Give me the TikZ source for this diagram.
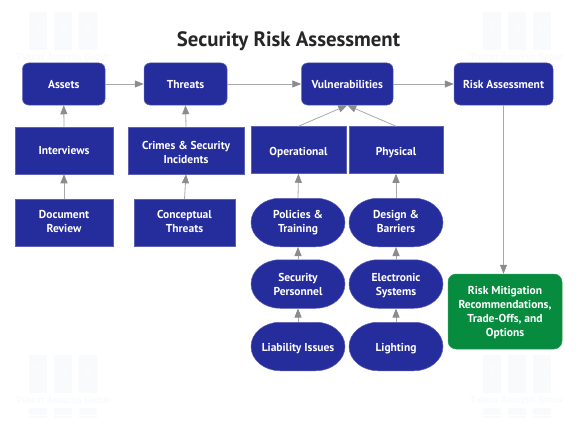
\documentclass[tikz,border=0pt]{standalone}
\usepackage{fontspec}
\setmainfont{PT Sans}
\definecolor{navy}{HTML}{252C9C}
\definecolor{leaf}{HTML}{078B3E}
\definecolor{wire}{HTML}{A9A9A9}
\definecolor{tip}{HTML}{8C8C8C}
\definecolor{ghost}{HTML}{F9FAFB}
\definecolor{ghostlet}{HTML}{FCFCFD}
\usetikzlibrary{arrows.meta}
\newcommand{\nudge}[2]{\raisebox{#1}[0pt][0pt]{#2}}
\tikzset{
  base/.style={fill=navy,draw=navy!75!white,line width=0.5pt,text=white,align=center,inner sep=0pt,
    font=\fontsize{11.5}{14}\selectfont\bfseries,
    execute at begin node=\rule{0pt}{13pt},execute at end node=\vphantom{Ag}},
  topbox/.style={base,rounded corners=6pt,minimum height=42pt},
  sqbox/.style={base,minimum height=47pt},
  pill/.style={base,fill=none,draw=none,minimum width=94pt,minimum height=48.5pt},
  pillfill/.style={fill=navy,draw=navy!75!white,line width=0.5pt},
  greenbox/.style={base,fill=leaf,draw=leaf!85!white,rounded corners=8pt,minimum width=114pt,minimum height=75pt},
  link/.style={draw=wire,line width=0.8pt,-{Triangle[length=9pt,width=7pt,fill=tip,color=tip]}},
  ghostbar/.style={fill=ghost,draw=none},
  ghosttext/.style={text=ghost,font=\fontsize{10}{10}\selectfont\bfseries,inner sep=0pt},
  ghostletter/.style={text=ghostlet,font=\fontsize{13}{13}\selectfont\bfseries,inner sep=0pt}
}
\newcommand{\tagmark}[2]{%
  \foreach \dx/\L in {29/T,54/A,79/G}{
    \fill[ghostbar] ({#1+\dx},{#2+12}) rectangle ({#1+\dx+18},{#2+50});
    \node[ghostletter] at ({#1+\dx+9},{#2+28}) {\L};
    \fill[ghostbar] ({#1+\dx},{#2+65}) rectangle ({#1+\dx+18},{#2+72});
    \fill[ghostbar] ({#1+\dx},{#2+73}) rectangle ({#1+\dx+18},{#2+75});
  }
  \node[ghosttext] at ({#1+63},{#2+57}) {T{\fontsize{8}{10}\selectfont HREAT} A{\fontsize{8}{10}\selectfont NALYSIS} G{\fontsize{8}{10}\selectfont ROUP}};
}
\newcommand{\pillnode}[4]{%
  \fill[pillfill,shift={(#2,#3)}] (-18,-24.25) -- (18,-24.25)
    .. controls (34,-24.25) and (47,-13.4) .. (47,0)
    .. controls (47,13.4) and (34,24.25) .. (18,24.25) -- (-18,24.25)
    .. controls (-34,24.25) and (-47,13.4) .. (-47,0)
    .. controls (-47,-13.4) and (-34,-24.25) .. (-18,-24.25) -- cycle;
  \node[pill] (#1) at (#2,#3) {#4};
}
\begin{document}
\begin{tikzpicture}[x=1pt,y=-1pt]
\useasboundingbox (0,0) rectangle (577,433);
\fill[white] (0,0) rectangle (577,433);
\tagmark{0}{0}
\tagmark{454}{0}
\tagmark{0}{343}
\tagmark{454}{343}
\node[inner sep=0pt,text=black!85,font=\fontsize{20.8}{24}\selectfont\bfseries] (title) at (288.5,41.5) {Security Risk Assessment};
\node[topbox,minimum width=82.5pt] (assets) at (63.75,84) {\nudge{1pt}{Assets}};
\node[topbox,minimum width=83pt] (threats) at (185.5,84) {\nudge{1pt}{Threats}};
\node[topbox,minimum width=91.5pt] (vuln) at (347.25,84) {\nudge{1pt}{Vulnerabilities}};
\node[topbox,minimum width=99pt] (risk) at (503.5,84) {\nudge{1pt}{Risk Assessment}};
\node[sqbox,minimum width=98pt] (interviews) at (64,150.5) {\nudge{1pt}{Interviews}};
\node[sqbox,minimum width=116pt] (crimes) at (186,150.5) {\nudge{-7pt}{Crimes \& Security}\\\nudge{-7pt}{Incidents}};
\node[sqbox,minimum width=95pt] (oper) at (298.5,150) {Operational};
\node[sqbox,minimum width=94.5pt] (phys) at (396,150) {Physical};
\node[sqbox,minimum width=98pt] (doc) at (64,222.5) {Document\\Review};
\node[sqbox,minimum width=101pt] (concept) at (184.5,222.5) {Conceptual\\Threats};
\pillnode{policies}{298}{222.5}{Policies \&\\Training}
\pillnode{design}{396}{222.5}{Design \&\\Barriers}
\pillnode{security}{298}{284}{\nudge{-6pt}{Security}\\\nudge{-6pt}{Personnel}}
\pillnode{electronic}{396}{284}{\nudge{-6pt}{Electronic}\\\nudge{-6pt}{Systems}}
\pillnode{liability}{298}{346.5}{Liability Issues}
\pillnode{lighting}{396}{346.5}{Lighting}
\node[greenbox] (mitig) at (505,311.5) {\nudge{-5pt}{Risk Mitigation}\\\nudge{-5pt}{Recommendations,}\\\nudge{-5pt}{Trade-Offs, and}\\\nudge{-5pt}{Options}};
\draw[link] (assets) -- (threats);
\draw[link] (threats) -- (vuln);
\draw[link] (vuln) -- (risk);
\draw[link] (interviews.north) -- (assets.south);
\draw[link] (doc.north) -- (interviews.south);
\draw[link] (crimes.north) -- (threats.south);
\draw[link] (concept.north) -- (crimes.south);
\draw[link] (oper.north) -- (vuln.south);
\draw[link] (phys.north) -- (vuln.south);
\draw[link] (policies.north) -- (oper.south);
\draw[link] (design.north) -- (phys.south);
\draw[link] (security.north) -- (policies.south);
\draw[link] (electronic.north) -- (design.south);
\draw[link] (liability.north) -- (security.south);
\draw[link] (lighting.north) -- (electronic.south);
\draw[link] (risk.south) -- (risk.south |- mitig.north);
\end{tikzpicture}
\end{document}
